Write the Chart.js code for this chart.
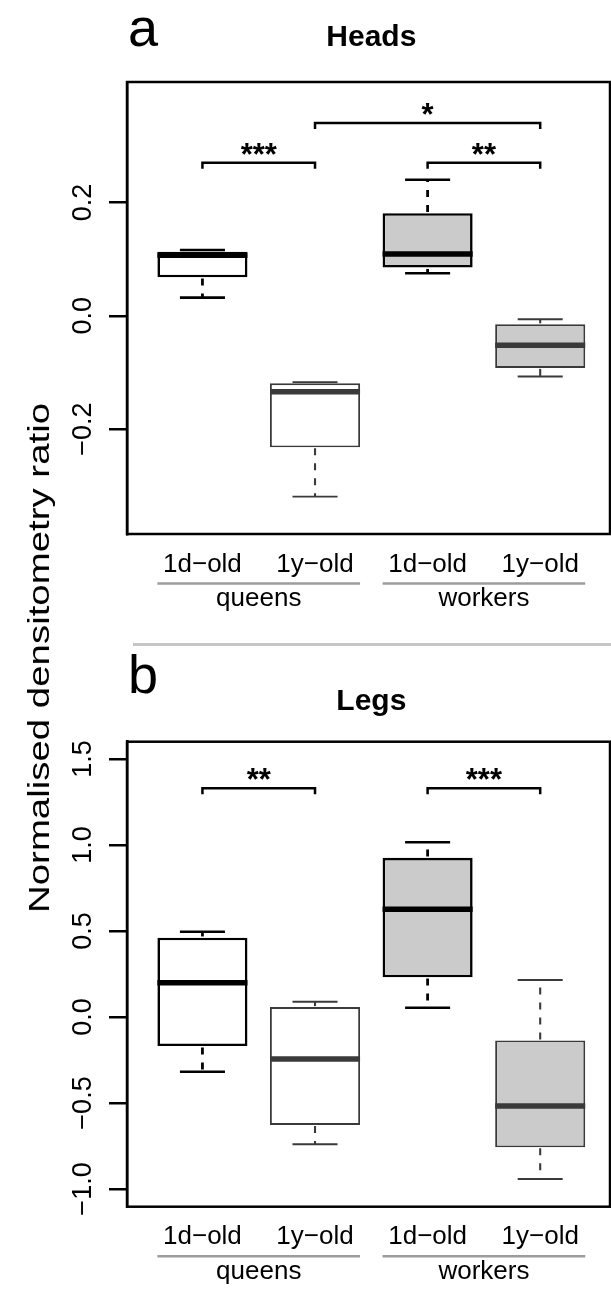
<!DOCTYPE html>
<html>
<head>
<meta charset="utf-8">
<script src="https://cdn.jsdelivr.net/npm/chart.js@4.4.1/dist/chart.umd.min.js"></script>
<style>
html,body{margin:0;padding:0;background:#fff;overflow:hidden;}
#wrap{position:relative;width:611px;height:1290px;font-family:"Liberation Sans",Arial,sans-serif;}
canvas{position:absolute;left:0;}
#c1{top:0;}
#c2{top:650px;}
#sep{position:absolute;left:133px;top:643px;width:478px;height:3px;background:#c6c6c6;}
#ylab{position:absolute;left:39px;top:658px;transform:translate(-50%,-50%) rotate(-90deg) scaleX(1.28);font-size:30px;white-space:nowrap;color:#000;line-height:1;}
</style>
</head>
<body>
<div id="wrap">
  <canvas id="c1" width="611" height="640"></canvas>
  <div id="sep"></div>
  <canvas id="c2" width="611" height="640"></canvas>
  <div id="ylab">Normalised densitometry ratio</div>
</div>
<script>
// ---------- data ----------
const categories = ['1d\u2212old', '1y\u2212old', '1d\u2212old', '1y\u2212old'];
const groupNames = ['queens', 'workers'];
const groupStart = [1, 3];
const groupEnd = [2, 4];

// Heads (panel a)
const headsMin    = [0.032, -0.319, 0.075, -0.107];
const headsQ1     = [0.068, -0.232, 0.085, -0.092];
const headsMedian = [0.107, -0.134, 0.109, -0.052];
const headsQ3     = [0.113, -0.119, 0.181, -0.015];
const headsMax    = [0.116, -0.117, 0.240, -0.006];
const headsTicks  = [-0.2, 0.0, 0.2];
const headsBracketFrom  = [1, 3, 2];
const headsBracketTo    = [2, 4, 4];
const headsBracketY     = [0.270, 0.270, 0.340];
const headsBracketStars = ['***', '**', '*'];

// Legs (panel b)
const legsMin    = [-0.318, -0.740, 0.054, -0.942];
const legsQ1     = [-0.169, -0.628, 0.231, -0.758];
const legsMedian = [0.199, -0.244, 0.626, -0.517];
const legsQ3     = [0.461, 0.058, 0.926, -0.136];
const legsMax    = [0.496, 0.089, 1.016, 0.215];
const legsTicks  = [-1.0, -0.5, 0.0, 0.5, 1.0, 1.5];
const legsBracketFrom  = [1, 3];
const legsBracketTo    = [2, 4];
const legsBracketY     = [1.33, 1.33];
const legsBracketStars = ['**', '***'];

// ---------- styles ----------
const FONT = '"Liberation Sans", Arial, sans-serif';
const boxFill = ['#ffffff', '#ffffff', '#cbcbcb', '#cbcbcb'];
const boxLine = ['#000000', '#3a3a3a', '#000000', '#3a3a3a'];
const boxLineWidth = [2.6, 1.9, 2.6, 1.9];
const medianColor = ['#000000', '#3a3a3a', '#000000', '#3a3a3a'];
const xMin = 0.33, xMax = 4.62;

function fmtTick(v) {
  return (v < 0 ? '\u2212' : '') + Math.abs(v).toFixed(1);
}

function line(ctx, x1, y1, x2, y2) {
  ctx.beginPath(); ctx.moveTo(x1, y1); ctx.lineTo(x2, y2); ctx.stroke();
}

function makeDecor(p) {
  return {
    id: 'decor_' + p.letter,
    afterDatasetsDraw(chart) {
      const ctx = chart.ctx, ys = chart.scales.y;
      const bars = chart.getDatasetMeta(0).data;
      ctx.save();
      ctx.lineCap = 'butt';
      for (let i = 0; i < categories.length; i++) {
        const bar = bars[i];
        const cx = bar.x, hw = bar.width / 2;
        const capHalf = hw / 2;
        const yMinP = ys.getPixelForValue(p.min[i]);
        const yQ1P = ys.getPixelForValue(p.q1[i]);
        const yMedP = ys.getPixelForValue(p.med[i]);
        const yQ3P = ys.getPixelForValue(p.q3[i]);
        const yMaxP = ys.getPixelForValue(p.max[i]);
        ctx.strokeStyle = boxLine[i];
        ctx.lineWidth = boxLineWidth[i] + 0.2;
        ctx.setLineDash([7, 8]);
        line(ctx, cx, yQ3P - boxLineWidth[i] / 2, cx, yMaxP);
        line(ctx, cx, yQ1P + boxLineWidth[i] / 2, cx, yMinP);
        ctx.setLineDash([]);
        ctx.lineWidth = boxLineWidth[i];
        line(ctx, cx - capHalf, yMaxP, cx + capHalf, yMaxP);
        line(ctx, cx - capHalf, yMinP, cx + capHalf, yMinP);
        ctx.strokeStyle = medianColor[i];
        ctx.lineWidth = 5.5;
        line(ctx, cx - hw, yMedP, cx + hw, yMedP);
      }
      ctx.restore();
    },
    afterDraw(chart) {
      const ctx = chart.ctx, xs = chart.scales.x, ys = chart.scales.y, a = chart.chartArea;
      const bars = chart.getDatasetMeta(0).data;
      ctx.save();
      // frame
      ctx.strokeStyle = '#000'; ctx.lineWidth = 2.5;
      ctx.strokeRect(a.left, a.top, a.right - a.left, a.bottom - a.top);
      // brackets
      ctx.lineWidth = 2.5;
      ctx.textAlign = 'center';
      ctx.textBaseline = 'alphabetic';
      ctx.fillStyle = '#000';
      ctx.font = 'bold 31px ' + FONT;
      for (let k = 0; k < p.bFrom.length; k++) {
        const x1 = xs.getPixelForValue(p.bFrom[k]);
        const x2 = xs.getPixelForValue(p.bTo[k]);
        const yb = ys.getPixelForValue(p.bY[k]);
        ctx.beginPath();
        ctx.moveTo(x1, yb + 6); ctx.lineTo(x1, yb); ctx.lineTo(x2, yb); ctx.lineTo(x2, yb + 6);
        ctx.stroke();
        ctx.fillText(p.bStars[k], (x1 + x2) / 2, yb + 2);
      }
      // group lines and labels
      ctx.font = '26px ' + FONT;
      for (let g = 0; g < groupNames.length; g++) {
        const b1 = bars[groupStart[g] - 1], b2 = bars[groupEnd[g] - 1];
        const x1 = b1.x - b1.width / 2, x2 = b2.x + b2.width / 2;
        ctx.strokeStyle = '#9c9c9c'; ctx.lineWidth = 2.5;
        line(ctx, x1, a.bottom + 49.5, x2, a.bottom + 49.5);
        ctx.fillText(groupNames[g], (x1 + x2) / 2, a.bottom + 72);
      }
      // title
      ctx.font = 'bold 30px ' + FONT;
      ctx.fillText(p.title, xs.getPixelForValue((1 + categories.length) / 2), p.titleBaseline);
      // panel letter
      ctx.textAlign = 'left';
      ctx.font = '54px ' + FONT;
      ctx.fillText(p.letter, 128, p.letterBaseline);
      ctx.restore();
    }
  };
}

function makePanel(id, p) {
  const barData = categories.map((c, i) => ({ x: i + 1, y: [p.q1[i], p.q3[i]] }));
  return new Chart(document.getElementById(id), {
    type: 'bar',
    data: {
      datasets: [{
        data: barData,
        backgroundColor: boxFill,
        borderColor: boxLine,
        borderWidth: boxLineWidth,
        borderSkipped: false,
        categoryPercentage: 1,
        barPercentage: 0.8
      }]
    },
    options: {
      responsive: false,
      animation: false,
      devicePixelRatio: 1,
      layout: { padding: { left: 0, right: 1, top: p.areaTop, bottom: 0 } },
      plugins: { legend: { display: false }, tooltip: { enabled: false } },
      scales: {
        x: {
          type: 'linear', min: xMin, max: xMax, offset: false,
          grid: { display: false, drawTicks: false },
          border: { display: false },
          afterBuildTicks: s => { s.ticks = categories.map((c, i) => ({ value: i + 1 })); },
          afterFit: s => { s.height = p.height - p.areaBottom; },
          ticks: {
            callback: v => categories[v - 1],
            autoSkip: false, maxRotation: 0, minRotation: 0, padding: 15,
            color: '#000', font: { family: FONT, size: 26 }
          }
        },
        y: {
          type: 'linear', min: p.yMin, max: p.yMax,
          grid: { drawOnChartArea: false, drawTicks: true, tickLength: 18, color: '#000', lineWidth: 2.5 },
          border: { display: true, color: '#000', width: 2.5 },
          afterBuildTicks: s => { s.ticks = p.ticks.map(v => ({ value: v })); },
          afterFit: s => { s.width = 127; },
          ticks: {
            callback: v => fmtTick(v),
            minRotation: 90, maxRotation: 90, crossAlign: 'center', padding: -1,
            color: '#000', font: { family: FONT, size: 27 }
          }
        }
      }
    },
    plugins: [makeDecor(p)]
  });
}

makePanel('c1', {
  min: headsMin, q1: headsQ1, med: headsMedian, q3: headsQ3, max: headsMax,
  yMin: -0.385, yMax: 0.4125, ticks: headsTicks,
  bFrom: headsBracketFrom, bTo: headsBracketTo, bY: headsBracketY, bStars: headsBracketStars,
  title: 'Heads', letter: 'a', height: 640, areaTop: 82, areaBottom: 534,
  titleBaseline: 46, letterBaseline: 46
});
makePanel('c2', {
  min: legsMin, q1: legsQ1, med: legsMedian, q3: legsQ3, max: legsMax,
  yMin: -1.103, yMax: 1.601, ticks: legsTicks,
  bFrom: legsBracketFrom, bTo: legsBracketTo, bY: legsBracketY, bStars: legsBracketStars,
  title: 'Legs', letter: 'b', height: 640, areaTop: 91.7, areaBottom: 556.7,
  titleBaseline: 60, letterBaseline: 43
});
</script>
</body>
</html>
